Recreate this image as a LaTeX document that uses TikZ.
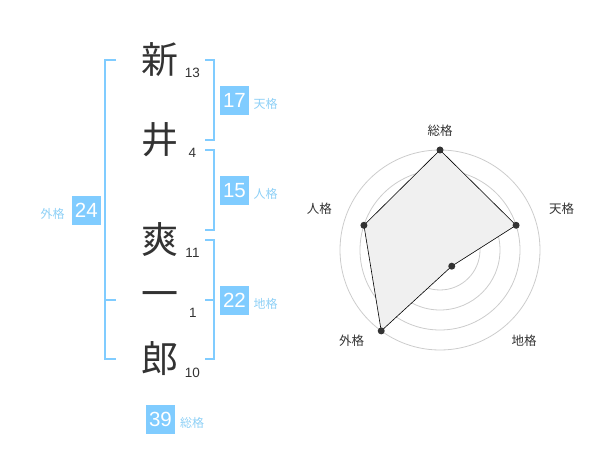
\documentclass[tikz,border=0pt]{standalone}
\usepackage{fontspec}
\setmainfont{Liberation Sans}
\newfontfamily\jp{Noto Sans CJK JP}
\definecolor{azul}{HTML}{80CCFF}
\definecolor{azulclaro}{HTML}{8ED0F6}
\definecolor{tinta}{HTML}{333333}
\definecolor{anel}{HTML}{CCCCCC}
\definecolor{area}{HTML}{F0F0F0}
\begin{document}
\begin{tikzpicture}[x=1pt,y=-1pt,
    kanji/.style={text=tinta, inner sep=0pt, font=\jp\fontsize{37}{37}\selectfont},
    traco/.style={text=tinta, inner sep=0pt, font=\fontsize{13.5}{13.5}\selectfont},
    caixa/.style={fill=azul, text=white, minimum size=29pt, inner sep=0pt, font=\fontsize{20.5}{20.5}\selectfont},
    rotulo/.style={text=azulclaro, inner sep=0pt, font=\jp\fontsize{12}{12}\selectfont},
    chave/.style={draw=azul, line width=2pt},
    eixo/.style={text=tinta, inner sep=0pt, font=\jp\fontsize{12.5}{12.5}\selectfont},
    ponto/.style={circle, fill=tinta, inner sep=0pt, minimum size=7pt}]
    \useasboundingbox (0,0) rectangle (600,470);
    % Caracteres do nome e numero de tracos
    \node[kanji] (c1) at (160,60) {新};
    \node[kanji] (c2) at (160,140) {井};
    \node[kanji] (c3) at (160,240) {爽};
    \node[kanji] (c4) at (160,300) {一};
    \node[kanji] (c5) at (160,359) {郎};
    \node[traco] (n1) at (192.5,73) {13};
    \node[traco] (n2) at (192.5,153) {4};
    \node[traco] (n3) at (192.5,253) {11};
    \node[traco] (n4) at (193,313) {1};
    \node[traco] (n5) at (192.5,372.5) {10};
    % Chaves da direita
    \draw[chave] (205,60) -- (214,60) -- (214,140) -- (205,140);
    \draw[chave] (205,150) -- (214,150) -- (214,230) -- (205,230);
    \draw[chave] (205,240) -- (214,240) -- (214,359) -- (205,359);
    \draw[chave] (205,300) -- (214,300);
    % Chave da esquerda
    \draw[chave] (116,60) -- (105,60) -- (105,359) -- (116,359);
    \draw[chave] (105,300) -- (116,300);
    % Caixas com os totais
    \node[caixa] (tenkaku) at (234.5,100.5) {17};
    \node[rotulo] (ltenkaku) at (265.5,104) {天格};
    \node[caixa] (jinkaku) at (234.5,190.5) {15};
    \node[rotulo] (ljinkaku) at (265.5,194) {人格};
    \node[caixa] (chikaku) at (234.5,300.5) {22};
    \node[rotulo] (lchikaku) at (265.5,304) {地格};
    \node[caixa] (gaikaku) at (86.3,210.5) {24};
    \node[rotulo] (lgaikaku) at (52.5,214) {外格};
    \node[caixa] (soukaku) at (160.5,419) {39};
    \node[rotulo] (lsoukaku) at (192,423) {総格};
    % Grafico de radar
    \begin{scope}[shift={(440,250)}, yscale=-1]
        \draw[anel, line width=0.8pt] (0,0) circle (20) circle (40) circle (60) circle (80) circle (100);
        \fill[anel] (0,0) circle (3.5);
        \coordinate (p1) at (90:100);
        \coordinate (p2) at (18:80);
        \coordinate (p3) at (-54:20);
        \coordinate (p4) at (-126:100);
        \coordinate (p5) at (162:80);
        \draw[fill=area, draw=black, line width=0.6pt] (p1) -- (p2) -- (p3) -- (p4) -- (p5) -- cycle;
        \node[ponto] at (p1) {};
        \node[ponto] at (p2) {};
        \node[ponto] at (p3) {};
        \node[ponto] at (p4) {};
        \node[ponto] at (p5) {};
        % Rotulos dos eixos
        \node[eixo] (r1) at (0,119.3) {総格};
        \node[eixo] (r2) at (121.7,41) {天格};
        \node[eixo] (r3) at (84,-91) {地格};
        \node[eixo] (r4) at (-88.3,-91) {外格};
        \node[eixo] (r5) at (-120.7,41) {人格};
    \end{scope}
\end{tikzpicture}
\end{document}
